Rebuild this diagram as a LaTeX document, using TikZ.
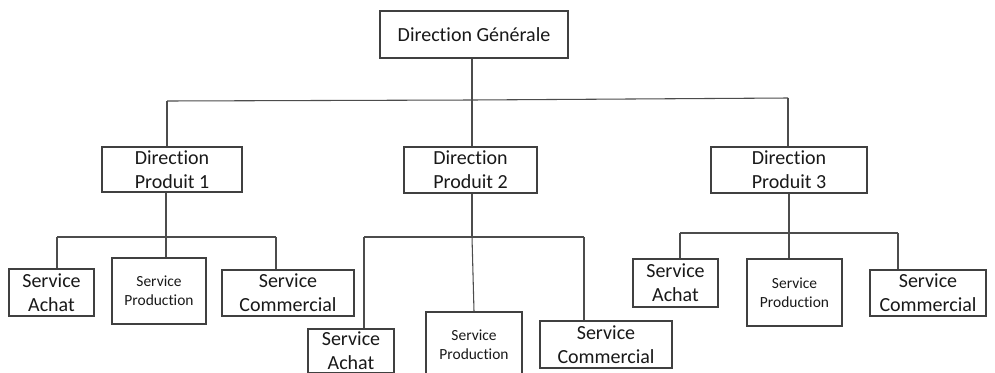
\documentclass[tikz,border=0pt]{standalone}
\usepackage{fontspec}
\setmainfont{Carlito}[Ligatures=NoCommon]
\begin{document}
\begin{tikzpicture}[x=0.75pt,y=-0.75pt,
  box/.style={draw=black!75, line width=0.8pt, inner sep=0pt, align=center,
    font=\fontsize{15}{18}\selectfont, text=black!90},
  smallbox/.style={box, font=\fontsize{11.6}{14}\selectfont},
  link/.style={draw=black!70, line width=0.8pt}]
\useasboundingbox[fill=white] (0,0) rectangle (995,372);

% top level
\node[box, minimum width=141pt, minimum height=35.25pt] (dg) at (474,34.5) {Direction Générale};

% product directions
\node[box, minimum width=105pt, minimum height=33.75pt] (dp1) at (172,169.5) {Direction\\Produit 1};
\node[box, minimum width=99.75pt, minimum height=34.5pt] (dp2) at (470.5,170) {Direction\\Produit 2};
\node[box, minimum width=117pt, minimum height=34.5pt] (dp3) at (789,170) {Direction\\Produit 3};

% services under product 1
\node[box, minimum width=63.75pt, minimum height=35.25pt] (sa1) at (51.5,292.5) {Service\\Achat};
\node[smallbox, minimum width=70.5pt, minimum height=49.5pt] (sp1) at (159,291) {Service\\Production};
\node[box, minimum width=99pt, minimum height=34.5pt] (sc1) at (288,293) {Service\\Commercial};

% services under product 2
\node[box, minimum width=64.5pt, minimum height=33pt] (sa2) at (351,351) {Service\\Achat};
\node[smallbox, minimum width=72pt, minimum height=49.5pt] (sp2) at (474,345) {Service\\Production};
\node[box, minimum width=99pt, minimum height=35.25pt] (sc2) at (606,344.5) {Service\\Commercial};

% services under product 3
\node[box, minimum width=63.75pt, minimum height=36pt] (sa3) at (675.5,283) {Service\\Achat};
\node[smallbox, minimum width=71.25pt, minimum height=50.25pt] (sp3) at (794.5,292.5) {Service\\Production};
\node[box, minimum width=87pt, minimum height=34.5pt] (sc3) at (928,293) {Service\\Commercial};

% bus: general direction to product directions
\coordinate (t0) at (472,100);
\coordinate (t0l) at (167,101);
\coordinate (t0r) at (788,98);
\draw[link] (dg.south -| t0) -- (t0);
\draw[link] (t0l) -- (t0) -- (t0r);
\draw[link] (t0l) -- (t0l |- dp1.north);
\draw[link] (t0) -- (t0 |- dp2.north);
\draw[link] (t0r) -- (t0r |- dp3.north);

% bus: product 1
\coordinate (t1) at (166,237);
\coordinate (t1l) at (57,237);
\coordinate (t1r) at (276,237);
\draw[link] (dp1.south -| t1) -- (t1);
\draw[link] (t1l) -- (t1r);
\draw[link] (t1l) -- (t1l |- sa1.north);
\draw[link] (t1) -- (t1 |- sp1.north);
\draw[link] (t1r) -- (t1r |- sc1.north);

% bus: product 2
\coordinate (t2) at (472,237);
\coordinate (t2l) at (364,237);
\coordinate (t2r) at (584,237);
\draw[link] (dp2.south -| t2) -- (t2);
\draw[link] (t2l) -- (t2r);
\draw[link] (t2l) -- (t2l |- sa2.north);
\draw[link] (t2) -- (sp2.north);
\draw[link] (t2r) -- (t2r |- sc2.north);

% bus: product 3
\coordinate (t3) at (789,233);
\coordinate (t3l) at (680,233);
\coordinate (t3r) at (898,233);
\draw[link] (dp3.south -| t3) -- (t3);
\draw[link] (t3l) -- (t3r);
\draw[link] (t3l) -- (t3l |- sa3.north);
\draw[link] (t3) -- (t3 |- sp3.north);
\draw[link] (t3r) -- (t3r |- sc3.north);
\end{tikzpicture}
\end{document}
